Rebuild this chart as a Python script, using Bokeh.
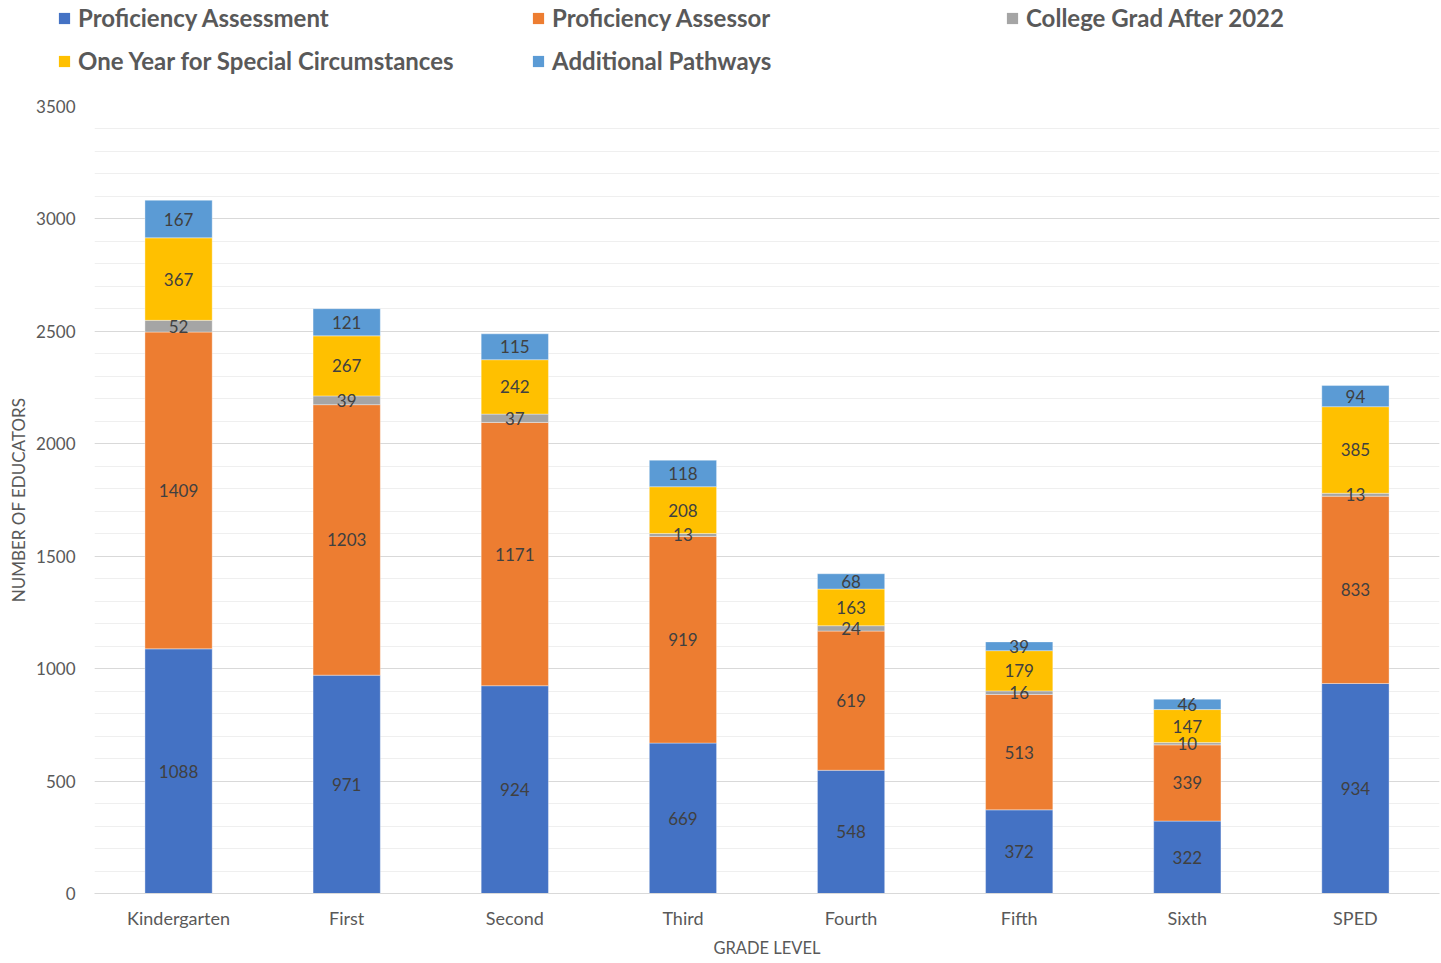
from bokeh.plotting import figure
from bokeh.layouts import column
from bokeh.models import (ColumnDataSource, Legend, LegendItem, Range1d,
                          FactorRange, SingleIntervalTicker)
from bokeh.embed import file_html
from bokeh.resources import INLINE
from bokeh.core.properties import value
import numpy as np

# ---- data ----
grades = ["Kindergarten", "First", "Second", "Third", "Fourth", "Fifth", "Sixth", "SPED"]
proficiency_assessment = [1088, 971, 924, 669, 548, 372, 322, 934]
proficiency_assessor = [1409, 1203, 1171, 919, 619, 513, 339, 833]
college_grad_after_2022 = [52, 39, 37, 13, 24, 16, 10, 13]
one_year_special = [367, 267, 242, 208, 163, 179, 147, 385]
additional_pathways = [167, 121, 115, 118, 68, 39, 46, 94]

series_names = ["Proficiency Assessment", "Proficiency Assessor", "College Grad After 2022",
                "One Year for Special Circumstances", "Additional Pathways"]
series_keys = ["pa", "pasr", "cg", "oy", "ap"]
series_values = [proficiency_assessment, proficiency_assessor, college_grad_after_2022,
                 one_year_special, additional_pathways]
colors = ["#4472C4", "#ED7D31", "#A5A5A5", "#FFC000", "#5B9BD5"]

FONT = "Lato"
TXT = "#595959"

data = {"grade": grades}
for k, v in zip(series_keys, series_values):
    data[k] = v
source = ColumnDataSource(data)

# ---- main chart ----
p = figure(x_range=FactorRange(*grades), y_range=Range1d(0, 3500),
           width=1440, height=882, output_backend="svg", toolbar_location=None,
           min_border_left=94, min_border_right=1, min_border_top=26, min_border_bottom=69)
p.frame_align = False
p.outline_line_color = None
p.background_fill_color = "white"

renderers = p.vbar_stack(series_keys, x="grade", width=0.40, source=source,
                         color=colors, line_color="white", line_width=0.6, line_alpha=0.6)

# data labels at segment centers
arr = np.array(series_values, dtype=float)
cum = np.cumsum(arr, axis=0)
mids = cum - arr / 2.0
lx, ly, lt = [], [], []
for i in range(arr.shape[0]):
    for j, g in enumerate(grades):
        lx.append(g)
        ly.append(mids[i, j])
        lt.append(str(int(arr[i, j])))
lsrc = ColumnDataSource(dict(x=lx, y=ly, t=lt))
p.text(x="x", y="y", text="t", source=lsrc, text_align="center", text_baseline="middle",
       text_font=value(FONT), text_font_size="17px", text_color="#404040")

# axes
for ax in (p.xaxis, p.yaxis):
    ax.major_tick_out = 0
    ax.major_tick_in = 0
    ax.minor_tick_out = 0
    ax.minor_tick_in = 0
    ax.major_tick_line_color = None
    ax.minor_tick_line_color = None
    ax.major_label_text_font = FONT
    ax.major_label_text_color = TXT
    ax.axis_label_text_font = FONT
    ax.axis_label_text_font_style = "normal"
    ax.axis_label_text_color = TXT

p.yaxis.ticker = SingleIntervalTicker(interval=500, num_minor_ticks=5)
p.yaxis.axis_line_color = None
p.yaxis.major_label_standoff = 19
p.yaxis.major_label_text_font_size = "17px"
p.yaxis.axis_label = "NUMBER OF EDUCATORS"
p.yaxis.axis_label_text_font_size = "17px"
p.yaxis.axis_label_standoff = 4

p.xaxis.axis_line_color = "#D9D9D9"
p.xaxis.major_label_standoff = 13
p.xaxis.major_label_text_font_size = "18px"
p.xaxis.axis_label = "GRADE LEVEL"
p.xaxis.axis_label_text_font_size = "16.5px"
p.xaxis.axis_label_standoff = 6

p.xgrid.grid_line_color = None
p.ygrid.grid_line_color = "#D9D9D9"
p.ygrid.grid_line_width = 1.2
p.ygrid.minor_grid_line_color = "#EFEFEF"
p.ygrid.minor_grid_line_width = 1

# ---- legend strip (own frameless figure above the chart) ----
# zero-width proxy renderers (same data) only supply the legend swatches
lg = figure(width=1440, height=80, output_backend="svg", toolbar_location=None,
            x_range=FactorRange(*grades), y_range=Range1d(-2, -1),
            x_axis_location=None, y_axis_location=None,
            min_border_left=0, min_border_right=0, min_border_top=0, min_border_bottom=0)
lg.frame_align = False
lg.outline_line_color = None
lg.xgrid.visible = False
lg.ygrid.visible = False
legend_renderers = lg.vbar_stack(series_keys, x="grade", width=0.0, source=source,
                                 color=colors, line_color=None)
items = [LegendItem(label=n, renderers=[r]) for n, r in zip(series_names, legend_renderers)]
legend = Legend(items=items, location=(57, 5), orientation="horizontal", ncols=3,
                glyph_width=14, glyph_height=14, label_standoff=7, label_width=439,
                spacing=14, padding=0, margin=0, border_line_color=None,
                background_fill_alpha=0,
                label_text_font=FONT, label_text_font_size="24px",
                label_text_font_style="bold", label_text_color=TXT)
lg.add_layout(legend)

layout = column(lg, p, spacing=0)
open("out.html", "w").write(file_html(layout, INLINE))
